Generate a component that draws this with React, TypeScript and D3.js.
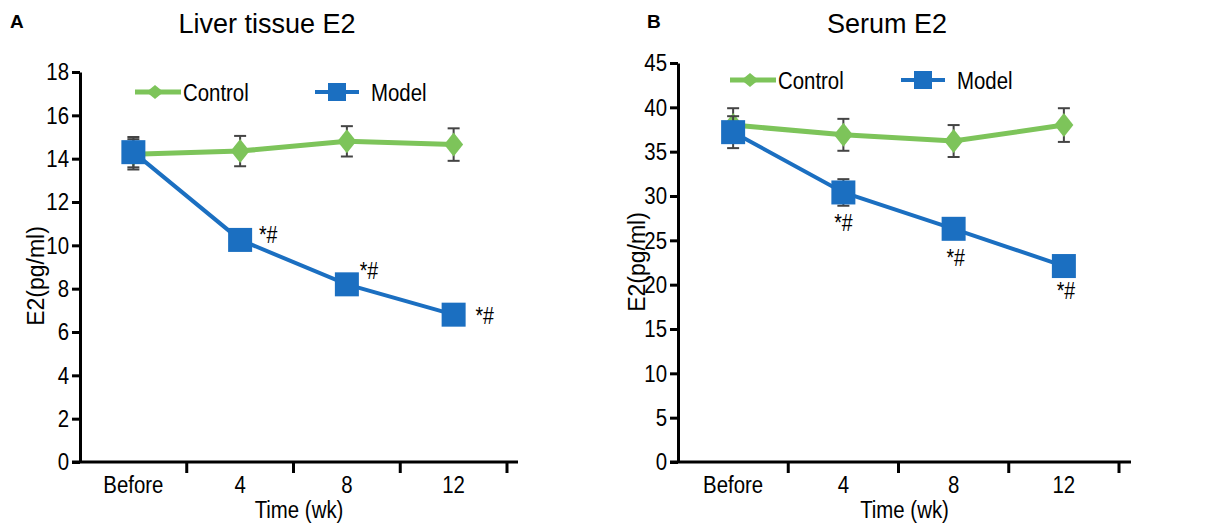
import React, { useEffect, useRef } from "react";
import * as d3 from "d3";

const categories = ["Before", "4", "8", "12"];

const liverControl = [14.2, 14.35, 14.8, 14.65];
const liverControlErr = [0.7, 0.7, 0.7, 0.75];
const liverModel = [14.3, 10.25, 8.2, 6.8];
const liverModelErr = [0.7, 0.45, 0.3, 0.3];
const liverTicks = [0, 2, 4, 6, 8, 10, 12, 14, 16, 18];

const serumControl = [38.0, 36.9, 36.2, 38.0];
const serumControlErr = [1.9, 1.8, 1.8, 1.9];
const serumModel = [37.2, 30.4, 26.3, 22.1];
const serumModelErr = [1.8, 1.5, 1.1, 0.6];
const serumTicks = [0, 5, 10, 15, 20, 25, 30, 35, 40, 45];

const marks = ["", "*#", "*#", "*#"];

const GREEN = "#7dc45a";
const BLUE = "#1b6fc1";
const FONT = "'Liberation Sans', Arial, sans-serif";
const SX = 0.85; // the figure's lettering is narrow and tall

// condensed text
function CText({ x, y, size, anchor = "start", children }) {
  return (
    <text transform={`translate(${x},${y}) scale(${SX},1)`} textAnchor={anchor} fontSize={size}>
      {children}
    </text>
  );
}

function Panel({ letter, title, x0, xEnd, axisEnd, yTop, yMax, ticks, control, controlErr, model, modelErr, markOffsets, legend, titleX, letterX, ylabelX, ylabelY }) {
  const yAxisRef = useRef(null);
  const y0 = 462;
  const x = d3.scaleBand().domain(categories).range([x0, xEnd]);
  const y = d3.scaleLinear().domain([0, yMax]).range([y0, yTop]);
  const cx = (c) => x(c) + x.bandwidth() / 2;

  useEffect(() => {
    const g = d3.select(yAxisRef.current);
    g.call(d3.axisLeft(y).tickValues(ticks).tickSize(8).tickSizeOuter(0));
    g.select(".domain").attr("stroke", "#000").attr("stroke-width", 3);
    g.selectAll(".tick line").attr("stroke", "#000").attr("stroke-width", 3);
    g.selectAll(".tick text")
      .attr("font-family", FONT)
      .attr("font-size", 24)
      .attr("fill", "#000")
      .attr("x", -11 / SX)
      .attr("transform", `scale(${SX},1)`);
  }, []);

  const line = d3.line().x((d, i) => cx(categories[i])).y((d) => y(d));

  const errBars = (vals, errs) =>
    vals.map((v, i) => {
      const px = cx(categories[i]);
      return (
        <g key={i} stroke="#444" strokeWidth={2}>
          <line x1={px} x2={px} y1={y(v + errs[i])} y2={y(v - errs[i])} />
          <line x1={px - 6} x2={px + 6} y1={y(v + errs[i])} y2={y(v + errs[i])} />
          <line x1={px - 6} x2={px + 6} y1={y(v - errs[i])} y2={y(v - errs[i])} />
        </g>
      );
    });

  const diamond = (px, py, w, h) => `M${px},${py - h / 2}L${px + w / 2},${py}L${px},${py + h / 2}L${px - w / 2},${py}Z`;

  return (
    <g fontFamily={FONT}>
      <text x={letterX} y={28} fontWeight="bold" fontSize={19}>{letter}</text>
      <text x={titleX} y={33} textAnchor="middle" fontSize={27}>{title}</text>

      {/* y axis */}
      <g ref={yAxisRef} transform={`translate(${x0},0)`} />
      <text transform={`translate(${ylabelX},${ylabelY}) rotate(-90)`} textAnchor="middle" fontSize={23}>E2(pg/ml)</text>

      {/* x axis */}
      <line x1={x0 - 8} x2={axisEnd} y1={y0} y2={y0} stroke="#000" strokeWidth={3} />
      {categories.map((c) => (
        <g key={c}>
          <line x1={x(c) + x.bandwidth()} x2={x(c) + x.bandwidth()} y1={y0} y2={y0 + 11} stroke="#000" strokeWidth={3} />
          <CText x={cx(c)} y={493} size={24} anchor="middle">{c}</CText>
        </g>
      ))}
      <CText x={(x0 + axisEnd) / 2} y={518} size={24} anchor="middle">Time (wk)</CText>

      {/* control */}
      <path d={line(control)} fill="none" stroke={GREEN} strokeWidth={5} />
      {errBars(control, controlErr)}
      {control.map((v, i) => (
        <path key={i} d={diamond(cx(categories[i]), y(v), 19, 24)} fill={GREEN} />
      ))}

      {/* model */}
      <path d={line(model)} fill="none" stroke={BLUE} strokeWidth={4} />
      {errBars(model, modelErr)}
      {model.map((v, i) => (
        <rect key={i} x={cx(categories[i]) - 12} y={y(v) - 12} width={24} height={24} fill={BLUE} />
      ))}

      {marks.map((m, i) => (
        <CText key={i} x={cx(categories[i]) + markOffsets[i][0]} y={y(model[i]) + markOffsets[i][1]} size={23} anchor="middle">{m}</CText>
      ))}

      {/* legend */}
      <line x1={legend.cx - 20} x2={legend.cx + 26} y1={legend.y} y2={legend.y} stroke={GREEN} strokeWidth={5} />
      <path d={diamond(legend.cx, legend.y, 17, 14)} fill={GREEN} />
      <CText x={legend.cx + 28} y={legend.y + 9} size={24}>Control</CText>
      <line x1={legend.mx - 22} x2={legend.mx + 22} y1={legend.y} y2={legend.y} stroke={BLUE} strokeWidth={4} />
      <rect x={legend.mx - 9} y={legend.y - 9} width={18} height={18} fill={BLUE} />
      <CText x={legend.mx + 34} y={legend.y + 9} size={24}>Model</CText>
    </g>
  );
}

export default function App() {
  return (
    <svg width={1226} height={530} style={{ position: "absolute", left: 0, top: 0, background: "#fff" }}>
      <rect width={1226} height={530} fill="#fff" />
      <Panel
        letter="A"
        title="Liver tissue E2"
        x0={80}
        xEnd={507}
        axisEnd={518}
        yTop={72}
        yMax={18}
        ticks={liverTicks}
        control={liverControl}
        controlErr={liverControlErr}
        model={liverModel}
        modelErr={liverModelErr}
        markOffsets={[[0, 0], [28, 3], [22, -5], [31, 9]]}
        legend={{ cx: 155, mx: 337, y: 92 }}
        titleX={267}
        letterX={10}
        ylabelX={44}
        ylabelY={276}
      />
      <Panel
        letter="B"
        title="Serum E2"
        x0={678}
        xEnd={1119}
        axisEnd={1131}
        yTop={63}
        yMax={45}
        ticks={serumTicks}
        control={serumControl}
        controlErr={serumControlErr}
        model={serumModel}
        modelErr={serumModelErr}
        markOffsets={[[0, 0], [0, 39], [2, 37], [2, 33]]}
        legend={{ cx: 750, mx: 923, y: 80 }}
        titleX={887}
        letterX={647}
        ylabelX={645}
        ylabelY={262}
      />
    </svg>
  );
}
